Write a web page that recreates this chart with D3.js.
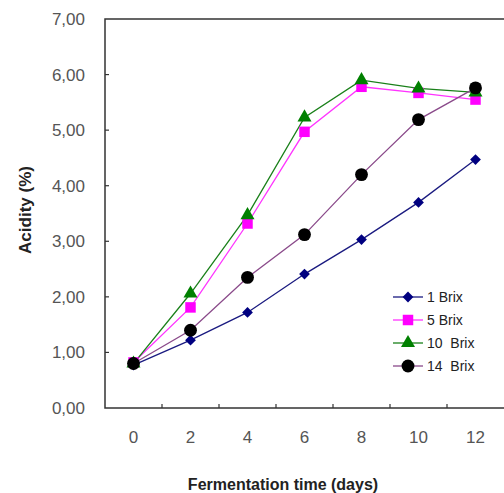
<!DOCTYPE html>
<html>
<head>
<meta charset="utf-8">
<script src="https://cdn.jsdelivr.net/npm/d3@7/dist/d3.min.js"></script>
<style>
  body { margin: 0; background: #fff; }
  text { font-family: "Liberation Sans", Arial, sans-serif; }
</style>
</head>
<body>
<svg id="chart" width="504" height="493"></svg>
<script>
// data
const days = [0, 2, 4, 6, 8, 10, 12];
const brix1  = [0.77, 1.22, 1.72, 2.41, 3.03, 3.70, 4.47];
const brix5  = [0.82, 1.81, 3.32, 4.97, 5.78, 5.67, 5.55];
const brix10 = [0.80, 2.06, 3.47, 5.23, 5.90, 5.75, 5.68];
const brix14 = [0.80, 1.40, 2.35, 3.12, 4.20, 5.19, 5.76];
const yTicks = [0, 1, 2, 3, 4, 5, 6, 7];
const seriesNames = ["1 Brix", "5 Brix", "10  Brix", "14  Brix"];

// diamond is a square turned 45 degrees
const series = [
  { name: seriesNames[0], values: brix1,  line: "#1a1a80", fill: "#000080", shape: d3.symbolSquare, size: 58, rot: 45 },
  { name: seriesNames[1], values: brix5,  line: "#ff33ff", fill: "#ff00ff", shape: d3.symbolSquare, size: 110, rot: 0 },
  { name: seriesNames[2], values: brix10, line: "#1a801a", fill: "#008000", shape: d3.symbolTriangle, size: 85, rot: 0 },
  { name: seriesNames[3], values: brix14, line: "#8a4a8a", fill: "#000000", shape: d3.symbolCircle, size: 130, rot: 0 }
];

const svg = d3.select("#chart");
const plot = { left: 105, right: 504, top: 19, bottom: 408 };

const xScale = d3.scaleBand().domain(days).range([plot.left, plot.right]);
const yScale = d3.scaleLinear().domain([0, 7]).range([plot.bottom, plot.top]);
const cx = d => xScale(d) + xScale.bandwidth() / 2;

// frame
svg.append("rect")
  .attr("x", plot.left).attr("y", plot.top)
  .attr("width", plot.right - plot.left + 5).attr("height", plot.bottom - plot.top)
  .attr("fill", "none").attr("stroke", "#333").attr("stroke-width", 1.5);

// y ticks (inside)
svg.append("g").selectAll("line")
  .data(yTicks.slice(1, -1))
  .enter().append("line")
  .attr("x1", plot.left).attr("x2", plot.left + 4)
  .attr("y1", d => yScale(d)).attr("y2", d => yScale(d))
  .attr("stroke", "#333").attr("stroke-width", 1.2);

svg.append("g").selectAll("text")
  .data(yTicks)
  .enter().append("text")
  .attr("x", 85).attr("y", d => yScale(d) + 6)
  .attr("text-anchor", "end")
  .style("font-size", "17px").style("fill", "#555")
  .text(d => d.toFixed(2).replace(".", ","));

// x ticks between categories (inside)
svg.append("g").selectAll("line")
  .data(days.slice(1))
  .enter().append("line")
  .attr("x1", d => xScale(d)).attr("x2", d => xScale(d))
  .attr("y1", plot.bottom).attr("y2", plot.bottom - 4)
  .attr("stroke", "#333").attr("stroke-width", 1.2);

svg.append("g").selectAll("text")
  .data(days)
  .enter().append("text")
  .attr("x", d => cx(d)).attr("y", 443)
  .attr("text-anchor", "middle")
  .style("font-size", "17px").style("fill", "#555")
  .text(d => d);

// axis titles
svg.append("text")
  .attr("x", 283).attr("y", 490)
  .attr("text-anchor", "middle")
  .style("font-size", "16px").style("font-weight", "bold").style("fill", "#222")
  .text("Fermentation time (days)");

svg.append("text")
  .attr("transform", "translate(31,210) rotate(-90)")
  .attr("text-anchor", "middle")
  .style("font-size", "17px").style("font-weight", "bold").style("fill", "#222")
  .text("Acidity (%)");

// lines and markers
const line = d3.line()
  .x((v, i) => cx(days[i]))
  .y(v => yScale(v));

series.forEach(s => {
  svg.append("path")
    .datum(s.values)
    .attr("d", line)
    .attr("fill", "none")
    .attr("stroke", s.line)
    .attr("stroke-width", 1.3);
});

series.forEach(s => {
  svg.append("g").selectAll("path")
    .data(s.values)
    .enter().append("path")
    .attr("d", d3.symbol().type(s.shape).size(s.size))
    .attr("transform", (v, i) => `translate(${cx(days[i])},${yScale(v)}) rotate(${s.rot})`)
    .attr("fill", s.fill);
});

// legend
const legend = svg.append("g");
series.forEach((s, i) => {
  const y = 297 + i * 23;
  legend.append("line")
    .attr("x1", 393).attr("x2", 423)
    .attr("y1", y).attr("y2", y)
    .attr("stroke", s.line).attr("stroke-width", 1.3);
  legend.append("path")
    .attr("d", d3.symbol().type(s.shape).size(s.size))
    .attr("transform", `translate(408,${y}) rotate(${s.rot})`)
    .attr("fill", s.fill);
  legend.append("text")
    .attr("x", 427).attr("y", y + 5)
    .style("font-size", "14px").style("fill", "#222")
    .style("white-space", "pre")
    .text(s.name);
});
</script>
</body>
</html>
